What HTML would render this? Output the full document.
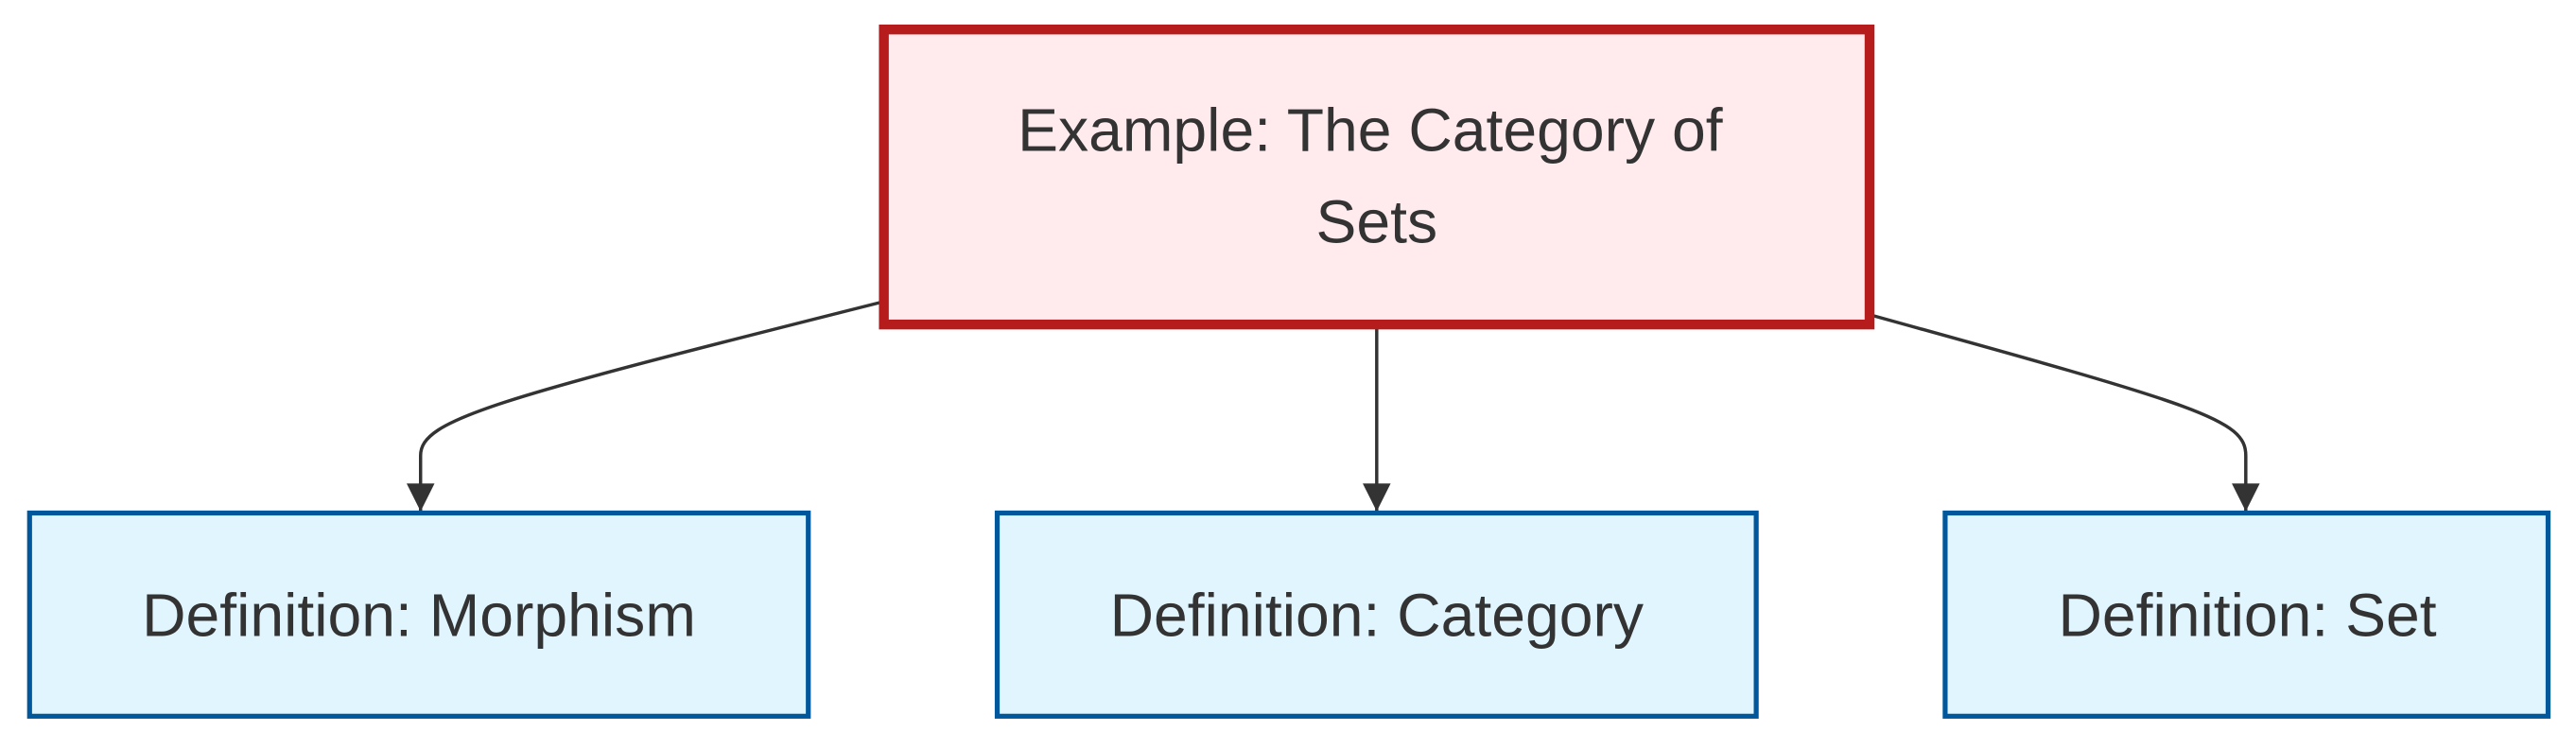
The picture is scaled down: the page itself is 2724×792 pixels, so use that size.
<!DOCTYPE html>
<html><head><meta charset="utf-8"><style>html,body{margin:0;padding:0;background:#fff;}svg{display:block}</style></head>
<body>
<svg width="2724" height="792" viewBox="0 0 1568 457" preserveAspectRatio="none" xmlns="http://www.w3.org/2000/svg">
<defs>
<marker id="b" viewBox="0 0 10 10" refX="10" refY="5" markerWidth="18" markerHeight="17" markerUnits="userSpaceOnUse" orient="auto"><path d="M0,0L10,5L0,10z" fill="#333"/></marker></defs>
<g fill="none" stroke="#333" stroke-width="2">
<path d="M538,184 C300,244 256,256 256,278 L256,312" marker-end="url(#b)"/>
<path d="M838,198 L838,312" marker-end="url(#b)"/>
<path d="M1138,192 C1340,248 1367,256 1367,278 L1367,312" marker-end="url(#b)"/>
</g>
<rect x="538" y="18" width="600" height="180" fill="#ffebee" stroke="#b71c1c" stroke-width="6"/>
<rect x="18" y="313" width="474" height="124" fill="#e1f5fe" stroke="#01579b" stroke-width="3"/>
<rect x="607" y="313" width="462" height="124" fill="#e1f5fe" stroke="#01579b" stroke-width="3"/>
<rect x="1184" y="313" width="367" height="124" fill="#e1f5fe" stroke="#01579b" stroke-width="3"/>
<g font-family="Liberation Sans, Arial, sans-serif" font-size="37" fill="#333" text-anchor="middle">
<text x="834" y="92">Example: The Category of</text>
<text x="838" y="148">Sets</text>
<text x="255" y="388">Definition: Morphism</text>
<text x="838" y="388">Definition: Category</text>
<text x="1368" y="388">Definition: Set</text>
</g>
</svg>
</body></html>
